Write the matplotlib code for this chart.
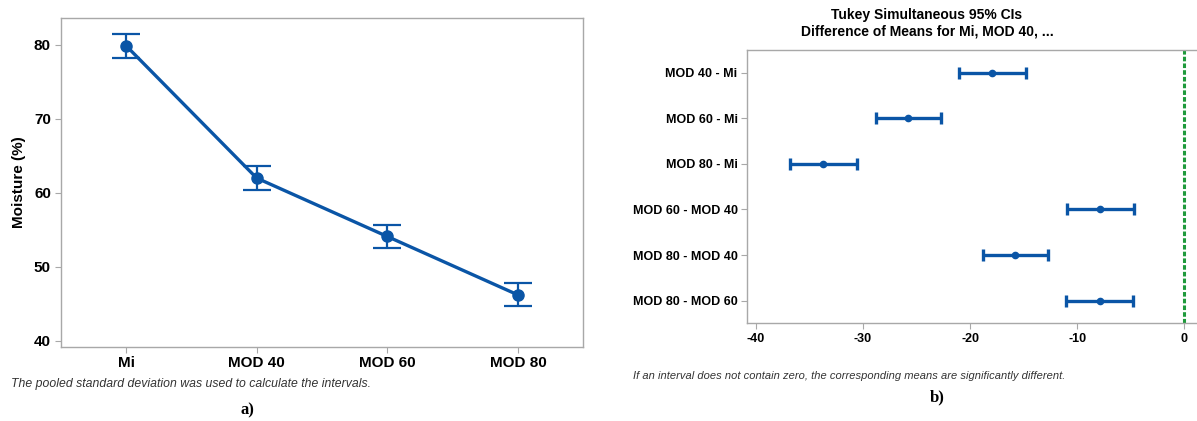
import matplotlib
matplotlib.use("Agg")
import matplotlib.pyplot as plt
import numpy as np

plt.rcParams["axes.unicode_minus"] = False

# Panel a: mean moisture with 95% CIs
groups = ["Mi", "MOD 40", "MOD 60", "MOD 80"]
moisture_mean = [79.9, 62.0, 54.1, 46.2]
moisture_low = [78.3, 60.4, 52.5, 44.7]
moisture_high = [81.5, 63.6, 55.7, 47.8]

# Panel b: Tukey simultaneous 95% CIs for differences of means
pairs = ["MOD 40 - Mi", "MOD 60 - Mi", "MOD 80 - Mi",
         "MOD 60 - MOD 40", "MOD 80 - MOD 40", "MOD 80 - MOD 60"]
diff_mean = [-17.9, -25.8, -33.7, -7.9, -15.8, -7.9]
diff_low = [-21.0, -28.8, -36.8, -10.9, -18.8, -11.0]
diff_high = [-14.8, -22.7, -30.6, -4.7, -12.7, -4.8]

BLUE = "#0a55a6"
GREEN = "#1f9a3c"
SPINE = "#a8a8a8"
FONT = "Liberation Sans"

fig = plt.figure(figsize=(11.97, 4.21), dpi=100)

# ---------- panel a ----------
ax1 = fig.add_axes([0.0507, 0.1765, 0.4366, 0.780])
x = np.arange(len(groups))
m = np.array(moisture_mean)
yerr = np.vstack([m - np.array(moisture_low), np.array(moisture_high) - m])
ax1.plot(x, m, color=BLUE, lw=2.4, zorder=3)
ax1.errorbar(x, m, yerr=yerr, fmt="o", color=BLUE, ms=8, elinewidth=1.6,
             capsize=10, capthick=1.6, zorder=4)
ax1.set_xlim(-0.5, 3.5)
ax1.set_ylim(39.2, 83.6)
ax1.set_yticks([40, 50, 60, 70, 80])
ax1.set_xticks(x)
ax1.set_xticklabels(groups)
ax1.set_ylabel("Moisture (%)", fontsize=11, fontweight="bold", family=FONT,
               labelpad=6)
for lab in ax1.get_xticklabels() + ax1.get_yticklabels():
    lab.set_fontfamily(FONT)
    lab.set_fontweight("bold")
    lab.set_fontsize(11)
for s in ax1.spines.values():
    s.set_color(SPINE)
    s.set_linewidth(1.0)
ax1.tick_params(axis="both", color=SPINE, length=4, width=0.8, pad=3)

fig.text(0.0095, 1 - 384 / 421, "The pooled standard deviation was used to calculate the intervals.",
         fontsize=8.8, style="italic", family=FONT, color="#333333", va="center")
fig.text(247 / 1197, 1 - 410 / 421, "a)", fontsize=12, fontweight="bold",
         family="Liberation Serif", ha="center", va="center")

# ---------- panel b ----------
ax2 = fig.add_axes([0.6243, 0.232, 0.3757, 0.649])
yy = np.arange(len(pairs))
d = np.array(diff_mean)
xerr = np.vstack([d - np.array(diff_low), np.array(diff_high) - d])
ax2.errorbar(d, yy, xerr=xerr, fmt="o", color=BLUE, ms=4.5, elinewidth=2.4,
             capsize=4, capthick=2.4, zorder=3)
ax2.axvline(0, color=GREEN, lw=2.2, ls=(0, (1.5, 0.7)), zorder=2)
ax2.set_xlim(-40.8, 1.2)
ax2.set_ylim(len(pairs) - 0.5, -0.5)
ax2.set_yticks(yy)
ax2.set_yticklabels(pairs)
ax2.set_xticks([-40, -30, -20, -10, 0])
for lab in ax2.get_xticklabels() + ax2.get_yticklabels():
    lab.set_fontfamily(FONT)
    lab.set_fontweight("bold")
    lab.set_fontsize(9)
ax2.spines["right"].set_visible(False)
for s in ["left", "top", "bottom"]:
    ax2.spines[s].set_color(SPINE)
    ax2.spines[s].set_linewidth(1.0)
ax2.tick_params(axis="both", color=SPINE, length=4, width=0.8, pad=3)

fig.text(927 / 1197, 1 - 14.5 / 421, "Tukey Simultaneous 95% CIs", fontsize=10,
         fontweight="bold", family=FONT, ha="center", va="center")
fig.text(927 / 1197, 1 - 32 / 421, "Difference of Means for Mi, MOD 40, ...", fontsize=10,
         fontweight="bold", family=FONT, ha="center", va="center")
fig.text(633 / 1197, 1 - 376 / 421,
         "If an interval does not contain zero, the corresponding means are significantly different.",
         fontsize=8, style="italic", family=FONT, color="#333333", va="center")
fig.text(937 / 1197, 1 - 397 / 421, "b)", fontsize=12, fontweight="bold",
         family="Liberation Serif", ha="center", va="center")

fig.savefig("out.png", dpi=100)
